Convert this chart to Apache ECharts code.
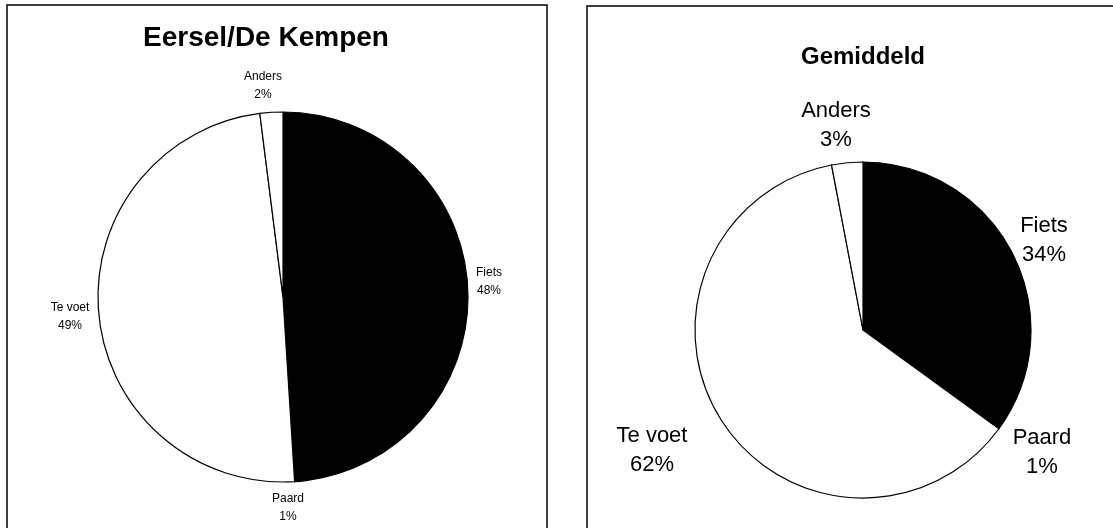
<!DOCTYPE html>
<html>
<head>
<meta charset="utf-8">
<script src="https://cdn.jsdelivr.net/npm/echarts@6/dist/echarts.min.js"></script>
<style>
  html, body { margin: 0; padding: 0; background: #fff; }
  #main { width: 1113px; height: 528px; }
</style>
</head>
<body>
<div id="main"></div>
<script>
// categories, same order for both charts (clockwise from 12 o'clock)
var categories = ['Fiets', 'Paard', 'Te voet', 'Anders'];
var kempenValues = [48, 1, 49, 2];
var gemiddeldValues = [34, 1, 62, 3];
var titles = ['Eersel/De Kempen', 'Gemiddeld'];
var sliceColors = ['#000000', '#000000', '#ffffff', '#ffffff'];

// where the Excel-style labels sit (text block centres), per chart, in category order
var labelSpots = [
  [[489, 282], [288, 508], [70, 317], [263, 86]],
  [[1044, 240], [1042, 452], [652, 450], [836, 125]]
];

var font = 'Liberation Sans, Arial, sans-serif';

function toData(vals) {
  return categories.map(function (name, i) {
    return { name: name, value: vals[i], itemStyle: { color: sliceColors[i] } };
  });
}

var myChart = echarts.init(document.getElementById('main'));

function makePie(idx, vals, center, radius, fs, lh) {
  return {
    type: 'pie',
    center: center,
    radius: radius,
    startAngle: 90,
    clockwise: true,
    data: toData(vals),
    itemStyle: { borderColor: '#000', borderWidth: 1.2 },
    label: {
      position: 'outside',
      formatter: '{c|{b}}\n{c|{d}%}',
      rich: { c: { align: 'center', fontSize: fs, lineHeight: lh, color: '#000', fontFamily: font } }
    },
    labelLine: { show: false, length: 8, length2: 0 },
    labelLayout: function (p) {
      var s = labelSpots[idx][p.dataIndex];
      return { x: s[0], y: s[1], align: 'center', verticalAlign: 'middle' };
    },
    emphasis: { disabled: true }
  };
}

var option = {
  backgroundColor: '#fff',
  animation: false,
  textStyle: { fontFamily: font, color: '#000' },
  graphic: [
    { type: 'rect', shape: { x: 7, y: 5, width: 540, height: 530 },
      style: { fill: 'none', stroke: '#000', lineWidth: 1.5 } },
    { type: 'rect', shape: { x: 587, y: 6, width: 540, height: 530 },
      style: { fill: 'none', stroke: '#000', lineWidth: 1.5 } }
  ],
  title: [
    { text: titles[0], left: 261, top: 19, textAlign: 'center',
      textStyle: { fontSize: 28, fontWeight: 'bold', fontFamily: font, color: '#000' } },
    { text: titles[1], left: 858, top: 40, textAlign: 'center',
      textStyle: { fontSize: 24, fontWeight: 'bold', fontFamily: font, color: '#000' } }
  ],
  series: [
    makePie(0, kempenValues, [283, 297], 185, 12, 18),
    makePie(1, gemiddeldValues, [863, 330], 168, 22, 29)
  ]
};

myChart.setOption(option);
</script>
</body>
</html>
